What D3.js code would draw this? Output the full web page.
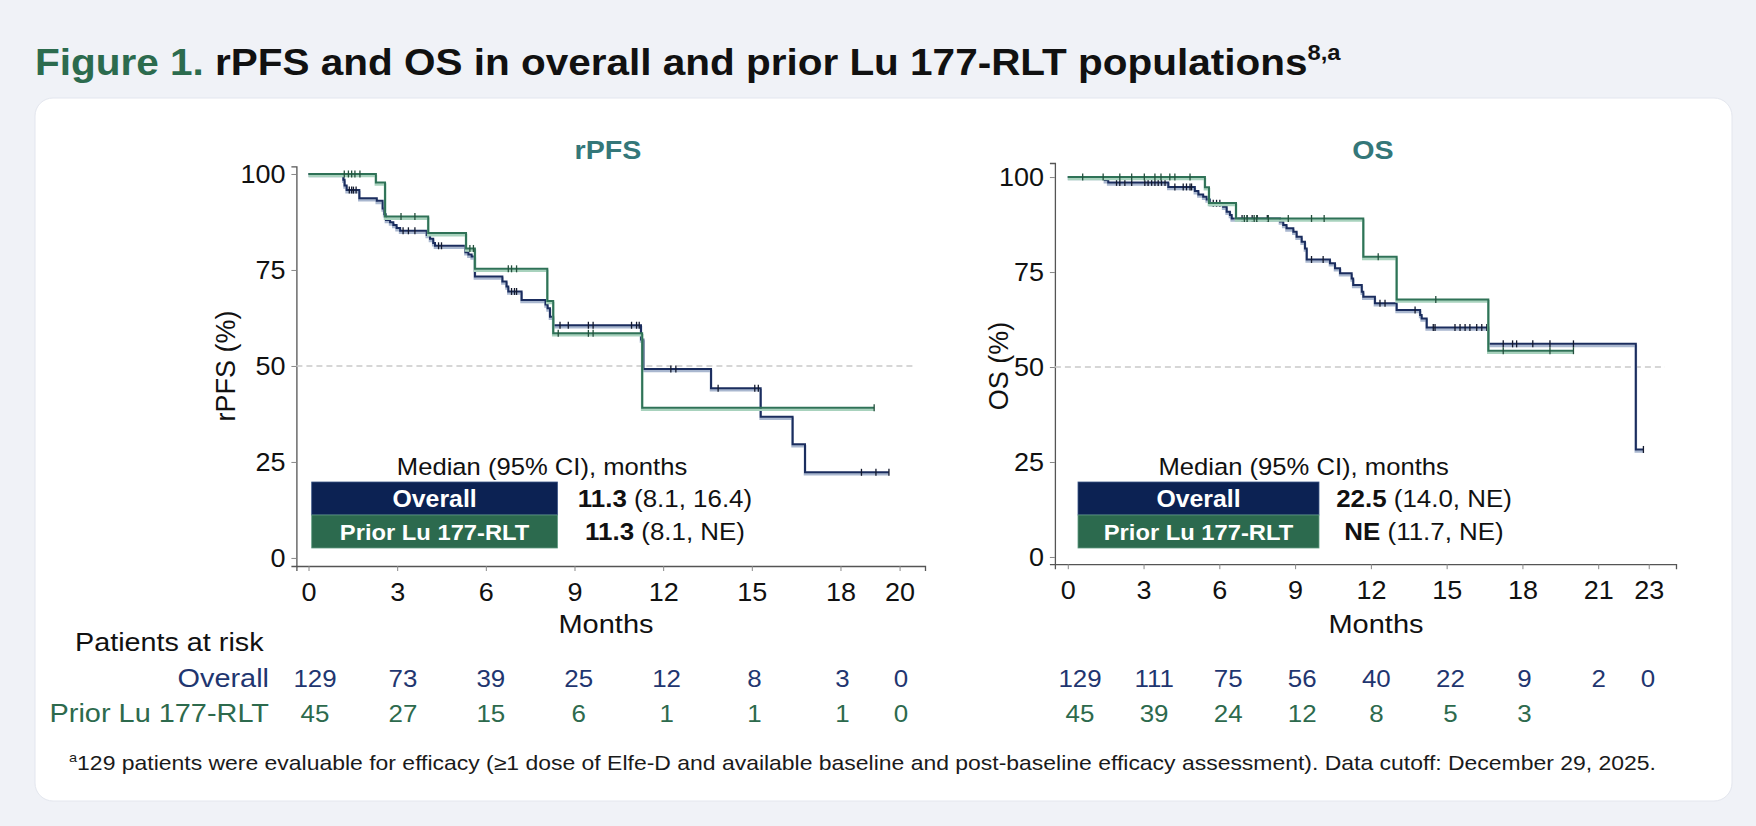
<!DOCTYPE html>
<html><head><meta charset="utf-8">
<script src="https://cdn.jsdelivr.net/npm/d3@7"></script>
<style>html,body{margin:0;padding:0;background:#f0f2f7;}svg{display:block;}</style>
</head><body>
<svg id="chart" width="1756" height="826"></svg>
<script>
// ---------------- DATA ----------------
const groups = ["Overall", "Prior Lu 177-RLT"];

// rPFS – overall (step times in months, survival %)
const rpfsOverallT = [0, 1.18, 1.22, 1.29, 1.72, 2.31, 2.51, 2.56, 2.62, 2.76, 2.87, 2.98, 3.10, 4.00, 4.11, 4.22, 4.28, 5.31, 5.41, 5.52, 5.63, 6.56, 6.70, 6.76, 7.21, 8.02, 8.09, 8.17, 8.28, 11.25, 11.33, 13.62, 15.30, 16.38, 16.80];
const rpfsOverallS = [100, 98.5, 97.0, 95.8, 93.7, 93.0, 91.0, 89.5, 88.0, 87.4, 86.7, 85.9, 85.2, 84.1, 83.1, 82.0, 81.3, 79.6, 79.0, 78.5, 73.3, 72.0, 70.7, 69.4, 67.2, 66.0, 65.0, 62.8, 60.6, 56.9, 49.2, 44.2, 36.8, 29.6, 22.3];
const rpfsOverallEnd = 19.64;
const rpfsOverallCens = [1.38, 1.46, 1.52, 1.61, 3.2, 3.38, 3.6, 4.4, 4.5, 6.87, 6.97, 7.04, 8.51, 8.79, 9.47, 9.63, 10.93, 11.1, 11.19, 12.26, 12.43, 13.86, 15.1, 15.22, 18.71, 19.2, 19.64];

// rPFS – prior Lu 177-RLT
const rpfsPriorT = [0, 2.28, 2.59, 4.05, 5.33, 5.63, 8.08, 8.28, 11.29];
const rpfsPriorS = [100, 97.8, 88.9, 84.6, 80.6, 75.3, 66.9, 58.5, 39.1];
const rpfsPriorEnd = 19.14;
const rpfsPriorCens = [1.21, 1.35, 1.46, 1.57, 1.74, 3.13, 3.6, 5.46, 5.58, 6.76, 6.87, 7.04, 8.45, 9.47, 9.63, 19.14];

// OS – overall
const osOverallT = [0, 1.47, 1.60, 3.98, 5.03, 5.17, 5.36, 5.50, 5.63, 6.15, 6.29, 6.42, 6.49, 8.40, 8.53, 8.66, 8.93, 9.06, 9.26, 9.39, 9.46, 10.38, 10.58, 10.78, 11.24, 11.30, 11.64, 11.70, 12.16, 13.02, 13.95, 14.01, 14.21, 16.65, 22.49];
const osOverallS = [100, 99.2, 98.6, 97.4, 96.3, 95.4, 94.8, 94.1, 93.1, 92.2, 90.9, 90.0, 89.1, 88.3, 87.4, 86.5, 85.6, 84.3, 83.0, 81.2, 78.3, 77.3, 76.0, 74.7, 73.3, 71.6, 69.8, 68.5, 66.8, 65.0, 63.7, 62.8, 60.4, 56.1, 28.3];
const osOverallEnd = 22.79;
const osOverallCens = [1.93, 2.06, 2.26, 2.53, 3.05, 3.18, 3.32, 3.45, 3.58, 3.71, 3.85, 4.24, 4.57, 4.7, 4.84, 4.9, 5.76, 5.89, 6.02, 6.9, 7.1, 7.3, 7.5, 7.9, 9.65, 10.11, 12.36, 12.56, 13.75, 14.47, 14.54, 15.33, 15.53, 15.73, 15.92, 16.19, 16.39, 16.59, 17.24, 17.61, 17.77, 18.41, 19.09, 20.02, 22.79];

// OS – prior Lu 177-RLT
const osPriorT = [0, 5.43, 5.59, 6.66, 11.70, 13.02, 16.65];
const osPriorS = [100, 97.3, 93.2, 89.1, 79.0, 67.8, 54.3];
const osPriorEnd = 20.02;
const osPriorCens = [0.59, 1.40, 2.06, 2.53, 3.03, 3.45, 3.69, 4.04, 4.24, 4.84, 6.99, 7.1, 7.38, 7.48, 7.94, 8.73, 9.65, 10.15, 12.29, 14.57, 17.24, 19.09, 20.02];

// axes ticks
const rpfsXTicks = [0, 3, 6, 9, 12, 15, 18, 20];
const osXTicks = [0, 3, 6, 9, 12, 15, 18, 21, 23];
const yTicks = [0, 25, 50, 75, 100];

// medians
const rpfsMedian = ["11.3", "11.3"];
const rpfsCI = [" (8.1, 16.4)", " (8.1, NE)"];
const osMedian = ["22.5", "NE"];
const osCI = [" (14.0, NE)", " (11.7, NE)"];

// patients at risk
const rpfsRiskOverall = [129, 73, 39, 25, 12, 8, 3, 0];
const rpfsRiskPrior = [45, 27, 15, 6, 1, 1, 1, 0];
const osRiskOverall = [129, 111, 75, 56, 40, 22, 9, 2, 0];
const osRiskPrior = [45, 39, 24, 12, 8, 5, 3];

// ---------------- STYLE ----------------
const FONT = "'Liberation Sans', Arial, Helvetica, sans-serif";
const SX = 1.08;
const NAVY = "#1b2d5e", NAVY_H = "#a9b7cf", NAVY_BOX = "#0c2253", NAVY_TXT = "#1f3670";
const GREEN = "#2f7257", GREEN_H = "#a8d2bd", GREEN_BOX = "#2c6a4e", GREEN_TXT = "#2d6a4d";
const TEAL = "#347779";

const svg = d3.select("#chart").style("font-family", FONT);

function txt(g, x, y, s, o = {}) {
  const t = g.append("text")
    .attr("transform", `translate(${x},${y}) scale(${o.sx || SX},1)` + (o.rot ? ` rotate(${o.rot})` : ""))
    .attr("font-size", o.size || 24)
    .attr("font-weight", o.bold ? "bold" : "normal")
    .attr("fill", o.fill || "#111")
    .attr("text-anchor", o.anchor || "start");
  if (s !== null) t.text(s);
  return t;
}

// background + card
svg.append("rect").attr("width", 1756).attr("height", 826).attr("fill", "#f0f2f7");
svg.append("rect").attr("x", 35).attr("y", 98).attr("width", 1697).attr("height", 703)
  .attr("rx", 18).attr("fill", "#fff").attr("stroke", "#e3e6ee").attr("stroke-width", 1);

// title
const title = txt(svg, 35, 75, null, { size: 37.5, bold: true });
title.append("tspan").attr("fill", "#2c6b4e").text("Figure 1. ");
title.append("tspan").attr("fill", "#111").text("rPFS and OS in overall and prior Lu 177-RLT populations");
title.append("tspan").attr("fill", "#111").attr("font-size", 22).attr("dy", -15).text("8,a");

function stepVal(T, S, t) { return S[Math.max(0, d3.bisectRight(T, t) - 1)]; }

function drawPanel(c) {
  const g = svg.append("g");
  const x = d3.scaleLinear().domain(c.xDomain).range(c.xRange);
  const y = d3.scaleLinear().domain(c.yDomain).range(c.yRange);
  const y0 = c.yRange[0];

  // x axis
  const xa = g.append("g").attr("transform", `translate(0,${y0})`)
    .call(d3.axisBottom(x).tickValues(c.xTicks).tickSizeOuter(0).tickSize(5).tickPadding(12));
  // y axis
  const ya = g.append("g").attr("transform", `translate(${c.xRange[0]},0)`)
    .call(d3.axisLeft(y).tickValues(yTicks).tickSizeOuter(0).tickSize(5).tickPadding(5));
  [xa, ya].forEach(a => {
    a.select(".domain").attr("stroke", "#555").attr("stroke-width", 1.3);
    a.selectAll(".tick line").attr("stroke", "#888");
    a.selectAll(".tick text").attr("font-size", 25).attr("fill", "#111").attr("font-family", FONT);
  });
  xa.selectAll(".tick text").attr("transform", `scale(${SX},1)`);
  ya.selectAll(".tick text").attr("transform", `scale(${SX},1)`).attr("dy", "0.35em");

  // 50% reference
  g.append("line").attr("x1", c.xRange[0]).attr("x2", c.dashEnd)
    .attr("y1", y(50)).attr("y2", y(50))
    .attr("stroke", "#c9c9c9").attr("stroke-width", 1.5).attr("stroke-dasharray", "6,4");

  // curves
  const line = d3.line().curve(d3.curveStepAfter).x(d => x(d[0])).y(d => y(d[1]));
  c.curves.forEach(cv => {
    const pts = cv.T.map((t, i) => [t, cv.S[i]]);
    pts.push([cv.end, cv.S[cv.S.length - 1]]);
    g.append("path").datum(pts).attr("d", line).attr("fill", "none")
      .attr("stroke", cv.halo).attr("stroke-width", 2.6).attr("transform", "translate(0,2)");
    g.append("path").datum(pts).attr("d", line).attr("fill", "none")
      .attr("stroke", cv.color).attr("stroke-width", 2);
    g.selectAll(null).data(cv.cens).enter().append("line")
      .attr("x1", d => x(d)).attr("x2", d => x(d))
      .attr("y1", d => y(stepVal(cv.T, cv.S, d)) - 3.5)
      .attr("y2", d => y(stepVal(cv.T, cv.S, d)) + 3.5)
      .attr("stroke", cv.tick).attr("stroke-width", 1.3);
  });

  // panel title, y label, x label
  txt(g, c.titleX, 159, c.title, { size: 26.5, bold: true, fill: TEAL, anchor: "middle" });
  txt(g, c.ylabX, 366, c.ylab, { size: 27, anchor: "middle", sx: 1, rot: -90 }).attr("dy", "0.35em");
  txt(g, c.monthsX, 633, "Months", { size: 25, sx: 1.16, anchor: "middle" });

  // median legend
  txt(g, c.medX, 475, "Median (95% CI), months", { size: 23.5, sx: 1.09, anchor: "middle" });
  const rowH = 33, boxTop = 482;
  [NAVY_BOX, GREEN_BOX].forEach((col, i) => {
    g.append("rect").attr("x", c.boxX).attr("y", boxTop + i * rowH).attr("width", c.boxW).attr("height", rowH)
      .attr("fill", col).attr("stroke", i ? "#5f9a80" : "#3b5586").attr("stroke-width", 0.8);
    txt(g, c.boxX + c.boxW / 2, boxTop + i * rowH + 25, groups[i], { size: i ? 22 : 23, bold: true, fill: "#fff", anchor: "middle" });
    const v = txt(g, c.valX, boxTop + i * rowH + 25, null, { size: 24, anchor: "middle" });
    v.append("tspan").attr("font-weight", "bold").text(c.median[i]);
    v.append("tspan").text(c.ci[i]);
  });

  // risk table
  const xr = d3.scaleLinear().domain([0, c.xTicks[c.xTicks.length - 1]]).range(c.riskRange);
  [[c.riskOverall, NAVY_TXT, 687], [c.riskPrior, GREEN_TXT, 722]].forEach(([arr, col, yy]) => {
    arr.forEach((n, i) => txt(g, xr(c.xTicks[i]), yy, String(n), { size: 24, fill: col, anchor: "middle" }));
  });
}

drawPanel({
  xDomain: [-0.41, 20.86], xRange: [296.4, 925], yDomain: [-2.1, 102], yRange: [566, 166.3],
  xTicks: rpfsXTicks, dashEnd: 914.6,
  title: "rPFS", titleX: 608, ylab: "rPFS (%)", ylabX: 226, monthsX: 606,
  medX: 542, boxX: 311.7, boxW: 245.8, valX: 665, median: rpfsMedian, ci: rpfsCI,
  riskRange: [315, 901], riskOverall: rpfsRiskOverall, riskPrior: rpfsRiskPrior,
  curves: [
    { T: rpfsOverallT, S: rpfsOverallS, end: rpfsOverallEnd, cens: rpfsOverallCens, color: NAVY, halo: NAVY_H, tick: "#141a2e" },
    { T: rpfsPriorT, S: rpfsPriorS, end: rpfsPriorEnd, cens: rpfsPriorCens, color: GREEN, halo: GREEN_H, tick: "#24503d" }
  ]
});

drawPanel({
  xDomain: [-0.51, 24.08], xRange: [1054.9, 1676], yDomain: [-1.9, 103.7], yRange: [564.2, 163],
  xTicks: osXTicks, dashEnd: 1665,
  title: "OS", titleX: 1373, ylab: "OS (%)", ylabX: 999, monthsX: 1376,
  medX: 1303.6, boxX: 1078, boxW: 241, valX: 1424, median: osMedian, ci: osCI,
  riskRange: [1080, 1648], riskOverall: osRiskOverall, riskPrior: osRiskPrior,
  curves: [
    { T: osOverallT, S: osOverallS, end: osOverallEnd, cens: osOverallCens, color: NAVY, halo: NAVY_H, tick: "#141a2e" },
    { T: osPriorT, S: osPriorS, end: osPriorEnd, cens: osPriorCens, color: GREEN, halo: GREEN_H, tick: "#24503d" }
  ]
});

// risk table labels
txt(svg, 75, 651, "Patients at risk", { size: 25, sx: 1.15 });
txt(svg, 269, 687, "Overall", { size: 25, sx: 1.156, fill: NAVY_TXT, anchor: "end" });
txt(svg, 269, 722, "Prior Lu 177-RLT", { size: 25, sx: 1.156, fill: GREEN_TXT, anchor: "end" });

// footnote
const fn = txt(svg, 69, 770, null, { size: 20.5, sx: 1.12, fill: "#1a1a1a" });
fn.append("tspan").attr("font-size", 13).attr("dy", -8).text("a");
fn.append("tspan").attr("dy", 8).text("129 patients were evaluable for efficacy (≥1 dose of Elfe-D and available baseline and post-baseline efficacy assessment). Data cutoff: December 29, 2025.");
</script>
</body></html>
